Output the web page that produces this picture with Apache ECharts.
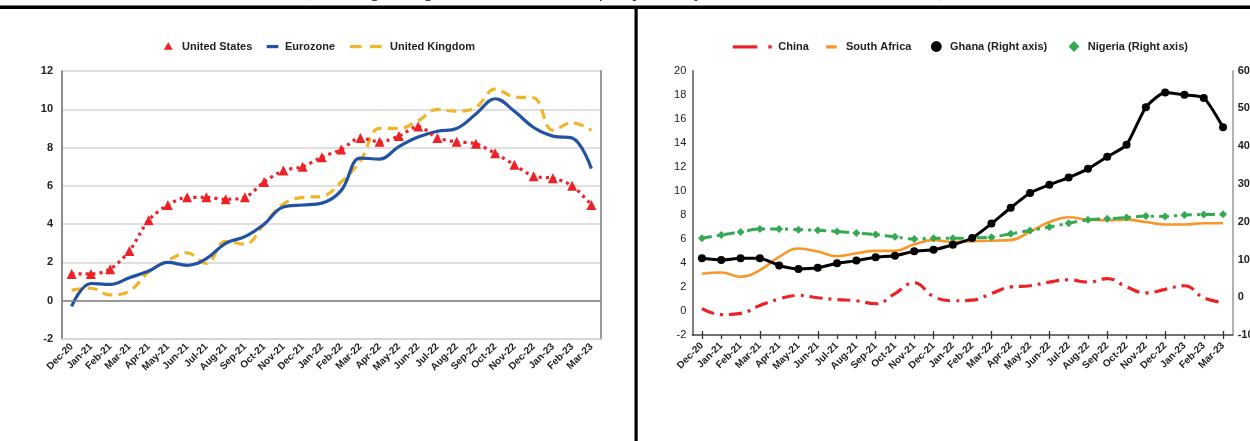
<!DOCTYPE html>
<html>
<head>
<meta charset="utf-8">
<script src="https://cdn.jsdelivr.net/npm/echarts@6/dist/echarts.min.js"></script>
<style>
  html, body { margin: 0; padding: 0; background: #fff; }
  #chart { width: 1250px; height: 441px; }
</style>
</head>
<body>
<div id="chart"></div>
<script>
// Monthly inflation, year-on-year, in percent
const months = ['Dec-20','Jan-21','Feb-21','Mar-21','Apr-21','May-21','Jun-21','Jul-21','Aug-21','Sep-21','Oct-21','Nov-21','Dec-21','Jan-22','Feb-22','Mar-22','Apr-22','May-22','Jun-22','Jul-22','Aug-22','Sep-22','Oct-22','Nov-22','Dec-22','Jan-23','Feb-23','Mar-23'];

// Advanced economies
const unitedStates = [1.4,1.4,1.65,2.6,4.2,5.0,5.4,5.4,5.3,5.4,6.2,6.8,7.0,7.5,7.9,8.5,8.3,8.6,9.1,8.5,8.3,8.2,7.7,7.1,6.5,6.4,6.0,5.0];
const eurozone = [-0.3,0.9,0.85,1.2,1.55,2.0,1.85,2.2,3.0,3.35,4.0,4.9,5.0,5.1,5.75,7.45,7.4,8.05,8.55,8.85,9.0,9.75,10.55,9.9,9.05,8.6,8.5,6.9];
const unitedKingdom = [0.55,0.65,0.3,0.5,1.5,2.1,2.5,1.95,3.1,2.95,4.0,5.05,5.4,5.45,6.2,7.3,9.0,9.0,9.4,10.0,9.9,10.1,11.05,10.65,10.6,8.9,9.3,8.9];

// Emerging and developing economies
const china = [0.2,-0.3,-0.2,0.45,1.0,1.3,1.1,0.95,0.85,0.6,1.45,2.35,1.2,0.85,0.9,1.45,2.0,2.1,2.4,2.6,2.4,2.7,2.0,1.5,1.8,2.1,1.1,0.7];
const southAfrica = [3.1,3.2,2.85,3.4,4.5,5.2,4.95,4.55,4.8,5.0,5.0,5.55,5.9,5.75,5.8,5.85,5.9,6.6,7.4,7.8,7.6,7.55,7.6,7.4,7.2,7.2,7.3,7.3];
const ghana = [10.3,9.85,10.3,10.3,8.4,7.5,7.8,9.0,9.7,10.6,11.0,12.2,12.6,13.9,15.7,19.5,23.7,27.6,29.8,31.7,34.0,37.2,40.4,50.3,54.2,53.6,52.8,45.0];
const nigeria = [15.6,16.5,17.3,18.1,18.1,17.9,17.75,17.4,17.0,16.6,16.0,15.4,15.6,15.6,15.7,15.9,16.8,17.7,18.6,19.6,20.5,20.8,21.1,21.5,21.4,21.8,21.9,22.0];

// Axis ranges
const leftTicks = { min: -2, max: 12, interval: 2 };
const rightMainTicks = { min: -2, max: 20, interval: 2 };
const rightSecondTicks = { min: -10, max: 60, interval: 10 };

const FONT = '"Liberation Sans", Arial, sans-serif';
const C = {
  red: '#ec2227', blue: '#2253a3', yellow: '#f2b42b',
  orange: '#f7972a', black: '#000000', green: '#35a853'
};

const monthLabel = {
  rotate: 45, interval: 0, fontSize: 10, fontWeight: 'bold',
  fontFamily: FONT, color: '#222'
};

const chart = echarts.init(document.getElementById('chart'), null, { renderer: 'canvas' });

function legendText(x, text) {
  return {
    type: 'text', x: x, y: 46.5,
    style: {
      text: text, fill: '#222', font: 'bold 11px ' + FONT,
      textAlign: 'left', textVerticalAlign: 'middle'
    }
  };
}

const graphics = [
  // heading and frame rules
  {
    type: 'text', x: 626, y: 1,
    style: {
      text: '(Percentage change over the same month of the previous year, December 2020 \u2013 March 2023)',
      fill: '#111', font: 'italic 17px "Liberation Serif", serif',
      textAlign: 'center', textVerticalAlign: 'bottom'
    }
  },
  { type: 'rect', shape: { x: 0, y: 5.5, width: 1250, height: 3.5 }, style: { fill: '#000' } },
  { type: 'rect', shape: { x: 634.5, y: 8, width: 3.2, height: 433 }, style: { fill: '#000' } },

  // key: advanced economies
  { type: 'polygon', shape: { points: [[163.8, 49.8], [172.8, 49.8], [168.3, 42.2]] }, style: { fill: C.red } },
  legendText(182, 'United States'),
  { type: 'rect', shape: { x: 266.7, y: 45, width: 11.6, height: 3.2 }, style: { fill: C.blue } },
  legendText(285, 'Eurozone'),
  { type: 'rect', shape: { x: 350, y: 45, width: 11.6, height: 3.2 }, style: { fill: C.yellow } },
  { type: 'rect', shape: { x: 370, y: 45, width: 11.6, height: 3.2 }, style: { fill: C.yellow } },
  legendText(390, 'United Kingdom'),

  // key: emerging economies
  { type: 'rect', shape: { x: 732.7, y: 45.3, width: 24.6, height: 3.2 }, style: { fill: C.red } },
  { type: 'rect', shape: { x: 768.3, y: 45.3, width: 3.4, height: 3.2 }, style: { fill: C.red } },
  legendText(778.3, 'China'),
  { type: 'rect', shape: { x: 826, y: 45.3, width: 10.7, height: 3.2 }, style: { fill: C.orange } },
  legendText(846, 'South Africa'),
  { type: 'circle', shape: { cx: 936.3, cy: 46.5, r: 5.4 }, style: { fill: C.black } },
  legendText(950, 'Ghana (Right axis)'),
  { type: 'polygon', shape: { points: [[1074, 41], [1079.5, 46.5], [1074, 52], [1068.5, 46.5]] }, style: { fill: C.green } },
  legendText(1087.7, 'Nigeria (Right axis)')
];

const option = {
  animation: false,
  backgroundColor: '#fff',
  textStyle: { fontFamily: FONT },
  graphic: graphics,
  grid: [
    { left: 62, top: 71, width: 539, height: 268, containLabel: false, outerBoundsMode: 'none' },
    { left: 692.3, top: 70.7, width: 540.4, height: 264.3, containLabel: false, outerBoundsMode: 'none' }
  ],
  xAxis: [
    {
      gridIndex: 0, type: 'category', data: months, boundaryGap: true,
      axisLine: { onZero: false, lineStyle: { color: '#d2d2d2', width: 1.5 } },
      axisTick: { show: false },
      axisLabel: Object.assign({ margin: 6 }, monthLabel),
      splitLine: { show: false }
    },
    {
      gridIndex: 1, type: 'category', data: months, boundaryGap: true,
      axisLine: { onZero: false, lineStyle: { color: '#444', width: 1.5 } },
      axisTick: { show: true, alignWithLabel: true, length: 4, lineStyle: { color: '#333', width: 1.3 } },
      axisLabel: Object.assign({ margin: 9 }, monthLabel),
      splitLine: { show: false }
    },
    {
      // inner half of the crossing tick marks
      gridIndex: 1, type: 'category', data: months, boundaryGap: true, position: 'bottom',
      axisLine: { show: false, onZero: false },
      axisTick: { show: true, inside: true, alignWithLabel: true, length: 4, lineStyle: { color: '#333', width: 1.3 } },
      axisLabel: { show: false },
      splitLine: { show: false }
    }
  ],
  yAxis: [
    {
      gridIndex: 0, type: 'value', min: leftTicks.min, max: leftTicks.max, interval: leftTicks.interval,
      axisLine: { show: true, lineStyle: { color: '#666', width: 1.5 } },
      axisTick: { show: false },
      axisLabel: { fontSize: 11, fontWeight: 'bold', color: '#222', margin: 9, fontFamily: FONT },
      splitLine: { show: true, lineStyle: { color: '#d6d6d6', width: 1.5 } }
    },
    {
      // right frame of the first panel
      gridIndex: 0, type: 'value', position: 'right',
      min: leftTicks.min, max: leftTicks.max, interval: leftTicks.interval,
      axisLine: { show: true, lineStyle: { color: '#9a9a9a', width: 2 } },
      axisTick: { show: false }, axisLabel: { show: false }, splitLine: { show: false }
    },
    {
      gridIndex: 1, type: 'value', min: rightMainTicks.min, max: rightMainTicks.max, interval: rightMainTicks.interval,
      axisLine: { show: true, lineStyle: { color: '#555', width: 1.5 } },
      axisTick: { show: false },
      axisLabel: { fontSize: 11, color: '#222', margin: 6, fontFamily: FONT },
      splitLine: { show: false }
    },
    {
      gridIndex: 1, type: 'value', position: 'right',
      min: rightSecondTicks.min, max: rightSecondTicks.max, interval: rightSecondTicks.interval,
      axisLine: { show: true, lineStyle: { color: '#999', width: 1.5 } },
      axisTick: { show: false },
      axisLabel: { fontSize: 11, fontWeight: 'bold', color: '#222', margin: 5, fontFamily: FONT },
      splitLine: { show: false }
    }
  ],
  series: [
    {
      name: 'United Kingdom', type: 'line', xAxisIndex: 0, yAxisIndex: 0, data: unitedKingdom,
      smooth: 0.4, symbol: 'none',
      lineStyle: { color: C.yellow, width: 3.2, type: [10, 6] },
      itemStyle: { color: C.yellow },
      markLine: {
        silent: true, symbol: 'none', label: { show: false },
        lineStyle: { color: '#808080', width: 1.5, type: 'solid' },
        data: [{ yAxis: 0 }]
      },
      z: 3
    },
    {
      name: 'Eurozone', type: 'line', xAxisIndex: 0, yAxisIndex: 0, data: eurozone,
      smooth: 0.4, symbol: 'none',
      lineStyle: { color: C.blue, width: 3.2 },
      itemStyle: { color: C.blue },
      z: 4
    },
    {
      name: 'United States', type: 'line', xAxisIndex: 0, yAxisIndex: 0, data: unitedStates,
      smooth: 0.3, symbol: 'triangle', symbolSize: 10, showAllSymbol: true,
      lineStyle: { color: C.red, width: 3.2, type: [3, 4] },
      itemStyle: { color: C.red },
      z: 5
    },
    {
      name: 'South Africa', type: 'line', xAxisIndex: 1, yAxisIndex: 2, data: southAfrica,
      smooth: 0.45, symbol: 'none',
      lineStyle: { color: C.orange, width: 2.6 },
      itemStyle: { color: C.orange },
      z: 3
    },
    {
      name: 'China', type: 'line', xAxisIndex: 1, yAxisIndex: 2, data: china,
      smooth: 0.45, symbol: 'none',
      lineStyle: { color: C.red, width: 3.2, type: [13, 6, 3, 6] },
      itemStyle: { color: C.red },
      z: 4
    },
    {
      name: 'Nigeria (Right axis)', type: 'line', xAxisIndex: 1, yAxisIndex: 3, data: nigeria,
      smooth: 0.3, symbol: 'diamond', symbolSize: 8, showAllSymbol: true,
      lineStyle: { color: C.green, width: 3, type: [10, 5, 3, 5] },
      itemStyle: { color: C.green },
      z: 5
    },
    {
      name: 'Ghana (Right axis)', type: 'line', xAxisIndex: 1, yAxisIndex: 3, data: ghana,
      smooth: 0.2, symbol: 'circle', symbolSize: 8, showAllSymbol: true,
      lineStyle: { color: C.black, width: 3 },
      itemStyle: { color: C.black },
      z: 6
    }
  ]
};

chart.setOption(option);
</script>
</body>
</html>
